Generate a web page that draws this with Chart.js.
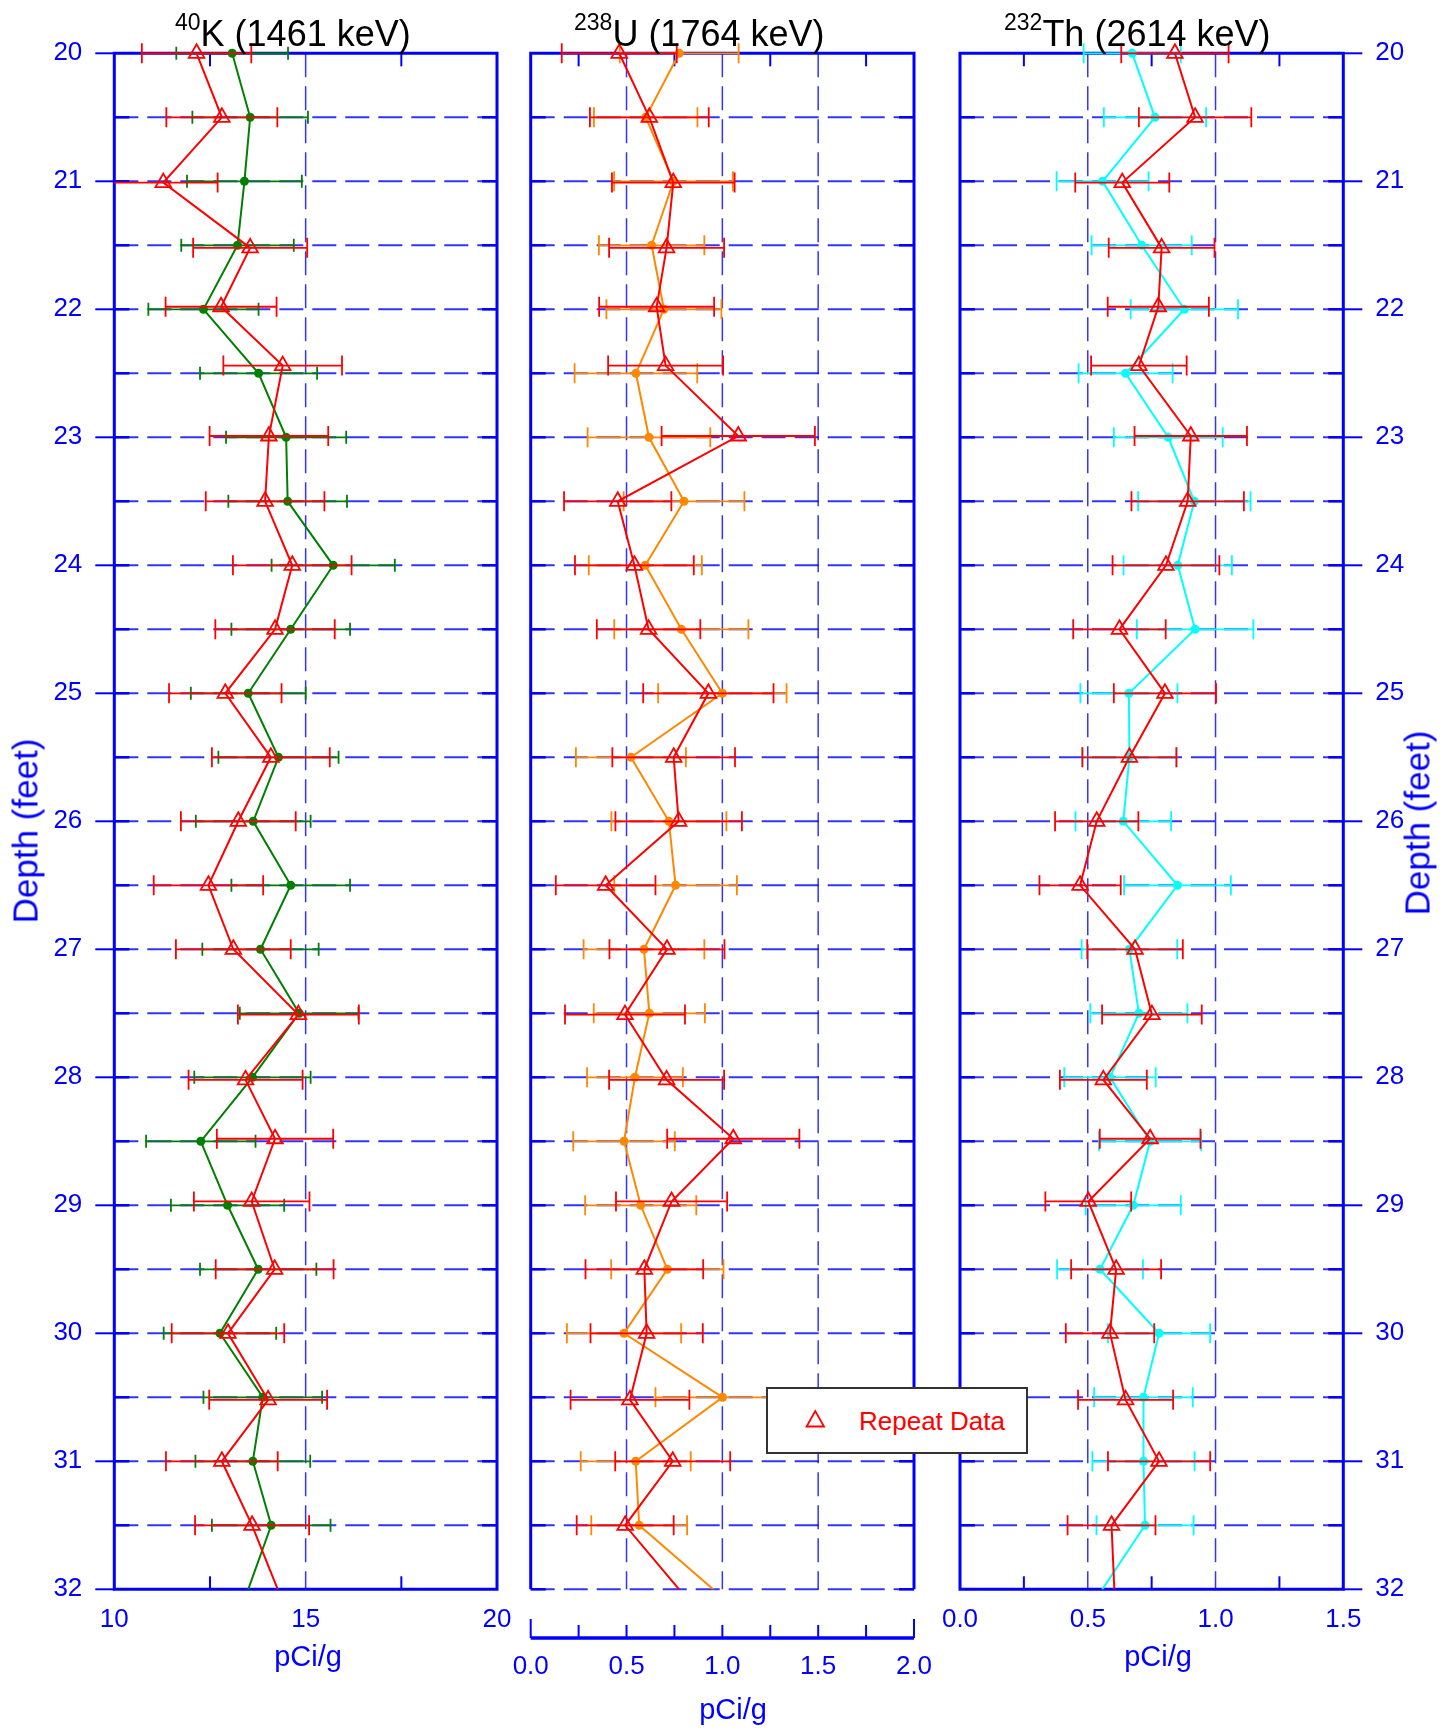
<!DOCTYPE html>
<html>
<head>
<meta charset="utf-8">
<script src="https://cdn.jsdelivr.net/npm/chart.js@4.4.1/dist/chart.umd.min.js"></script>
<style>
  body { margin: 0; background: #fff; }
  #page { position: relative; width: 1452px; height: 1733px; overflow: hidden; font-family: 'Liberation Sans', Arial, sans-serif; }
  #page canvas { position: absolute; left: 0; top: 0; }
  .title { position: absolute; top: 16px; font-size: 36px; line-height: 36px; color: #000; white-space: nowrap; }
  .title .iso { font-size: 23px; line-height: 0; position: relative; top: -15.7px; }
  .unit { position: absolute; width: 200px; text-align: center; font-size: 29px; line-height: 29px; color: #0000ff; }
  .depth { position: absolute; font-size: 35px; line-height: 35px; color: #0000ff; white-space: nowrap; transform: translate(-50%, -50%) rotate(-90deg); }
  #legend { position: absolute; left: 766px; top: 1387px; width: 262px; height: 67px; box-sizing: border-box; border: 2px solid #333; background: #fff; z-index: 5; }
  #legend svg { position: absolute; left: 0; top: 0; }
  #legend span { position: absolute; left: 91px; top: 19px; font-size: 26px; line-height: 26px; color: #ff0000; white-space: nowrap; }
</style>
</head>
<body>
<div id="page">
  <canvas id="kChart" width="1452" height="1733"></canvas>
  <canvas id="uChart" width="1452" height="1733"></canvas>
  <canvas id="thChart" width="1452" height="1733"></canvas>

  <div class="title" style="left:175px"><span class="iso">40</span>K (1461 keV)</div>
  <div class="title" style="left:574px"><span class="iso">238</span>U (1764 keV)</div>
  <div class="title" style="left:1004px"><span class="iso">232</span>Th (2614 keV)</div>

  <div class="unit" style="left:208px; top:1642px">pCi/g</div>
  <div class="unit" style="left:633px; top:1695px">pCi/g</div>
  <div class="unit" style="left:1058px; top:1642px">pCi/g</div>

  <div class="depth" style="left:25px; top:831px">Depth (feet)</div>
  <div class="depth" style="left:1417px; top:823px">Depth (feet)</div>

  <div id="legend">
    <svg width="258" height="63"><polygon points="47.3,22 38.6,37.5 56,37.5" fill="none" stroke="#ff0000" stroke-width="1.8"/></svg>
    <span>Repeat Data</span>
  </div>
</div>

<script>
// logged depths (ft); the last point lies just below the plotted range
const depths = [20, 20.5, 21, 21.5, 22, 22.5, 23, 23.5, 24, 24.5, 25, 25.5, 26, 26.5, 27, 27.5, 28, 28.5, 29, 29.5, 30, 30.5, 31, 31.5, 32.5];
const repeatDepths = [20, 20.5, 21.01, 21.52, 21.98, 22.44, 22.99, 23.5, 24, 24.5, 25, 25.5, 26, 26.5, 27, 27.51, 28.02, 28.48, 28.97, 29.5, 30, 30.52, 31, 31.5, 32.5];

// 40K (1461 keV), pCi/g
const kValues = [13.08, 13.55, 13.40, 13.22, 12.33, 13.77, 14.49, 14.53, 15.72, 14.61, 13.50, 14.29, 13.63, 14.61, 13.82, 14.83, 13.61, 12.26, 12.96, 13.76, 12.76, 13.88, 13.62, 14.10, 12.90];
const kErrors = [1.46, 1.51, 1.50, 1.47, 1.44, 1.53, 1.57, 1.55, 1.61, 1.55, 1.50, 1.57, 1.50, 1.55, 1.52, 1.55, 1.52, 1.43, 1.48, 1.52, 1.47, 1.55, 1.50, 1.55, null];
const kRepeat = [12.15, 12.81, 11.28, 13.55, 12.79, 14.40, 14.04, 13.94, 14.65, 14.20, 12.90, 14.09, 13.24, 12.46, 13.11, 14.81, 13.43, 14.20, 13.59, 14.19, 12.97, 14.02, 12.81, 13.60, 14.94];
const kRepeatErrors = [1.43, 1.45, 1.42, 1.49, 1.45, 1.55, 1.55, 1.55, 1.55, 1.56, 1.47, 1.54, 1.50, 1.43, 1.50, 1.58, 1.49, 1.52, 1.51, 1.54, 1.47, 1.54, 1.46, 1.49, null];

// 238U (1764 keV), pCi/g
const uValues = [0.775, 0.600, 0.745, 0.631, 0.695, 0.549, 0.617, 0.800, 0.598, 0.786, 1.000, 0.523, 0.721, 0.756, 0.591, 0.619, 0.544, 0.487, 0.574, 0.713, 0.487, 1.001, 0.548, 0.566, 1.338];
const uErrors = [0.31, 0.27, 0.31, 0.275, 0.30, 0.32, 0.32, 0.315, 0.295, 0.35, 0.335, 0.287, 0.30, 0.32, 0.315, 0.29, 0.25, 0.265, 0.29, 0.293, 0.298, 0.35, 0.287, 0.25, null];
const uRepeat = [0.462, 0.619, 0.744, 0.709, 0.657, 0.704, 1.083, 0.454, 0.541, 0.615, 0.927, 0.746, 0.772, 0.391, 0.711, 0.492, 0.709, 1.057, 0.735, 0.593, 0.605, 0.518, 0.741, 0.493, 1.055];
const uRepeatErrors = [0.30, 0.31, 0.32, 0.30, 0.30, 0.30, 0.40, 0.28, 0.31, 0.27, 0.34, 0.32, 0.33, 0.26, 0.30, 0.313, 0.30, 0.345, 0.29, 0.307, 0.293, 0.31, 0.30, 0.253, null];

// 232Th (2614 keV), pCi/g
const thValues = [0.674, 0.763, 0.558, 0.711, 0.878, 0.648, 0.815, 0.917, 0.852, 0.920, 0.661, 0.663, 0.639, 0.851, 0.663, 0.700, 0.587, 0.744, 0.678, 0.548, 0.779, 0.718, 0.718, 0.724, 0.390];
const thErrors = [0.19, 0.20, 0.18, 0.196, 0.21, 0.184, 0.213, 0.22, 0.212, 0.228, 0.19, 0.184, 0.187, 0.209, 0.187, 0.19, 0.179, 0.20, 0.186, 0.168, 0.20, 0.193, 0.20, 0.19, null];
const thRepeat = [0.841, 0.920, 0.635, 0.789, 0.776, 0.700, 0.903, 0.891, 0.806, 0.624, 0.802, 0.663, 0.535, 0.470, 0.685, 0.751, 0.561, 0.744, 0.502, 0.611, 0.587, 0.648, 0.779, 0.593, 0.615];
const thRepeatErrors = [0.21, 0.22, 0.184, 0.207, 0.198, 0.187, 0.22, 0.22, 0.209, 0.181, 0.20, 0.184, 0.163, 0.159, 0.187, 0.195, 0.17, 0.197, 0.168, 0.176, 0.173, 0.186, 0.20, 0.172, null];

const BLUE = '#0000ff';
const GRID = 'rgba(0, 0, 255, 0.8)';
const RED = '#ff0000';

Chart.defaults.font.family = "'Liberation Sans', Arial, sans-serif";

// horizontal error bars, drawn just under each dataset's own line
const errorBars = {
  id: 'errorBars',
  beforeDatasetDraw(chart, args) {
    const ds = chart.data.datasets[args.index];
    if (!ds.errors) return;
    const { ctx, chartArea: a } = chart;
    const xs = chart.scales.x, ys = chart.scales.y;
    ctx.save();
    ctx.beginPath();
    ctx.rect(a.left, a.top - 30, a.right - a.left, a.bottom - a.top + 30);
    ctx.clip();
    ctx.strokeStyle = ds.borderColor;
    ctx.lineWidth = 1.8;
    ds.data.forEach((p, i) => {
      const e = ds.errors[i];
      if (e == null) return;
      const py = ys.getPixelForValue(p.y);
      const x1 = xs.getPixelForValue(p.x - e);
      const x2 = xs.getPixelForValue(p.x + e);
      const c = ds.capHalf;
      ctx.beginPath();
      ctx.moveTo(x1, py); ctx.lineTo(x2, py);
      ctx.moveTo(x1, py - c); ctx.lineTo(x1, py + c);
      ctx.moveTo(x2, py - c); ctx.lineTo(x2, py + c);
      ctx.stroke();
    });
    ctx.restore();
  }
};

// panel frame, dashed grid and the small inward ticks
const panelFrame = {
  id: 'panelFrame',
  beforeDatasetsDraw(chart, args, opt) {
    const { ctx, chartArea: a } = chart;
    const x = chart.scales.x, y = chart.scales.y;
    const line = (x1, y1, x2, y2) => { ctx.beginPath(); ctx.moveTo(x1, y1); ctx.lineTo(x2, y2); ctx.stroke(); };
    ctx.save();

    const rows = [];
    const last = opt.closedBottom ? 31.5 : 32;
    for (let d = 20.5; d <= last; d += 0.5) rows.push(y.getPixelForValue(d));

    ctx.strokeStyle = GRID;
    ctx.setLineDash([24, 9]);
    ctx.lineWidth = 2;
    rows.forEach(py => line(a.left, py, a.right, py));
    ctx.lineWidth = 1.5;
    opt.vGrid.forEach(v => { const px = x.getPixelForValue(v); line(px, a.top, px, a.bottom); });
    ctx.setLineDash([]);

    ctx.strokeStyle = BLUE;
    ctx.lineWidth = 2.5;
    rows.forEach(py => { line(a.left, py, a.left + 15, py); line(a.right - 15, py, a.right, py); });

    ctx.lineWidth = 2;
    opt.minor.forEach(v => {
      const px = x.getPixelForValue(v);
      line(px, a.top, px, a.top + 13);
      if (opt.closedBottom) line(px, a.bottom - 13, px, a.bottom);
    });

    if (opt.outer) {
      y.ticks.forEach(t => {
        const py = y.getPixelForValue(t.value);
        if (opt.outer === 'left') line(a.left - 19, py, a.left, py);
        else line(a.right, py, a.right + 19, py);
      });
    }

    ctx.lineWidth = 3;
    ctx.beginPath();
    if (opt.closedBottom) {
      ctx.rect(a.left, a.top, a.right - a.left, a.bottom - a.top);
    } else {
      ctx.moveTo(a.left, a.bottom); ctx.lineTo(a.left, a.top);
      ctx.lineTo(a.right, a.top); ctx.lineTo(a.right, a.bottom);
    }
    ctx.stroke();

    // detached value axis below the uranium panel
    if (opt.lowerAxis) {
      const ay = a.bottom + opt.lowerAxis.offset;
      ctx.lineWidth = 3.5;
      line(a.left, ay, a.right, ay);
      ctx.lineWidth = 2;
      line(a.left, ay, a.left, ay - 19);
      line(a.right, ay, a.right, ay - 19);
      opt.lowerAxis.ticks.forEach(v => { const px = x.getPixelForValue(v); line(px, ay, px, ay - 13); });
    }
    ctx.restore();
  }
};

function series(label, ys, xs, errs, color, repeat) {
  return {
    label,
    data: xs.map((v, i) => ({ x: v, y: ys[i] })),
    errors: errs,
    capHalf: repeat ? 10 : (color === '#008000' ? 6.5 : 10),
    showLine: true,
    borderColor: color,
    borderWidth: 2,
    pointStyle: repeat ? 'triangle' : 'circle',
    pointRadius: repeat ? 9 : 4.5,
    pointBorderWidth: repeat ? 1.8 : 0,
    pointBackgroundColor: repeat ? 'rgba(0,0,0,0)' : color,
    pointBorderColor: color,
    order: repeat ? 0 : 1,
    clip: { left: 0, top: 30, right: 0, bottom: 0 }
  };
}

function makePanel(id, p) {
  return new Chart(document.getElementById(id), {
    type: 'scatter',
    data: {
      datasets: [
        series('Repeat Data', repeatDepths, p.repeat, p.repeatErrors, RED, true),
        series(p.name, depths, p.values, p.errors, p.color, false)
      ]
    },
    options: {
      responsive: false,
      animation: false,
      devicePixelRatio: 1,
      events: [],
      layout: { padding: p.padding },
      plugins: {
        legend: { display: false },
        tooltip: { enabled: false },
        panelFrame: p.frame
      },
      scales: {
        x: {
          type: 'linear', min: p.min, max: p.max,
          ticks: {
            stepSize: p.step, padding: p.labelPad, maxRotation: 0, autoSkip: false,
            color: BLUE, font: { size: 26 },
            callback: p.fmt
          },
          grid: { display: false, drawTicks: false },
          border: { display: false },
          afterFit: s => { s.height = p.xHeight; }
        },
        y: {
          type: 'linear', reverse: true, min: 20, max: 32,
          display: p.yPos !== null,
          position: p.yPos || 'left',
          ticks: { stepSize: 1, padding: 32, color: BLUE, font: { size: 26 } },
          grid: { display: false, drawTicks: false },
          border: { display: false },
          afterFit: s => { s.width = s.options.display ? 100 : 0; }
        }
      }
    },
    plugins: [panelFrame, errorBars]
  });
}

makePanel('kChart', {
  name: '40K', values: kValues, errors: kErrors, repeat: kRepeat, repeatErrors: kRepeatErrors,
  color: '#008000', min: 10, max: 20, step: 5, fmt: v => String(v),
  labelPad: 15, xHeight: 50, yPos: 'left',
  padding: { left: 14.3, right: 955, top: 53.3, bottom: 93.7 },
  frame: { vGrid: [15], minor: [12.5, 17.5], closedBottom: true, outer: 'left' }
});

makePanel('uChart', {
  name: '238U', values: uValues, errors: uErrors, repeat: uRepeat, repeatErrors: uRepeatErrors,
  color: '#ff8800', min: 0, max: 2, step: 0.5, fmt: v => v.toFixed(1),
  labelPad: 62, xHeight: 100, yPos: null,
  padding: { left: 530.7, right: 538, top: 53.3, bottom: 43.7 },
  frame: { vGrid: [0.5, 1, 1.5], minor: [0.25, 0.75, 1.25, 1.75], closedBottom: false,
           lowerAxis: { offset: 48.7, ticks: [0.25, 0.5, 0.75, 1, 1.25, 1.5, 1.75] } }
});

makePanel('thChart', {
  name: '232Th', values: thValues, errors: thErrors, repeat: thRepeat, repeatErrors: thRepeatErrors,
  color: '#00ffff', min: 0, max: 1.5, step: 0.5, fmt: v => v.toFixed(1),
  labelPad: 15, xHeight: 50, yPos: 'right',
  padding: { left: 960, right: 8.7, top: 53.3, bottom: 93.7 },
  frame: { vGrid: [0.5, 1], minor: [0.25, 0.75, 1.25], closedBottom: true, outer: 'right' }
});
</script>
</body>
</html>
